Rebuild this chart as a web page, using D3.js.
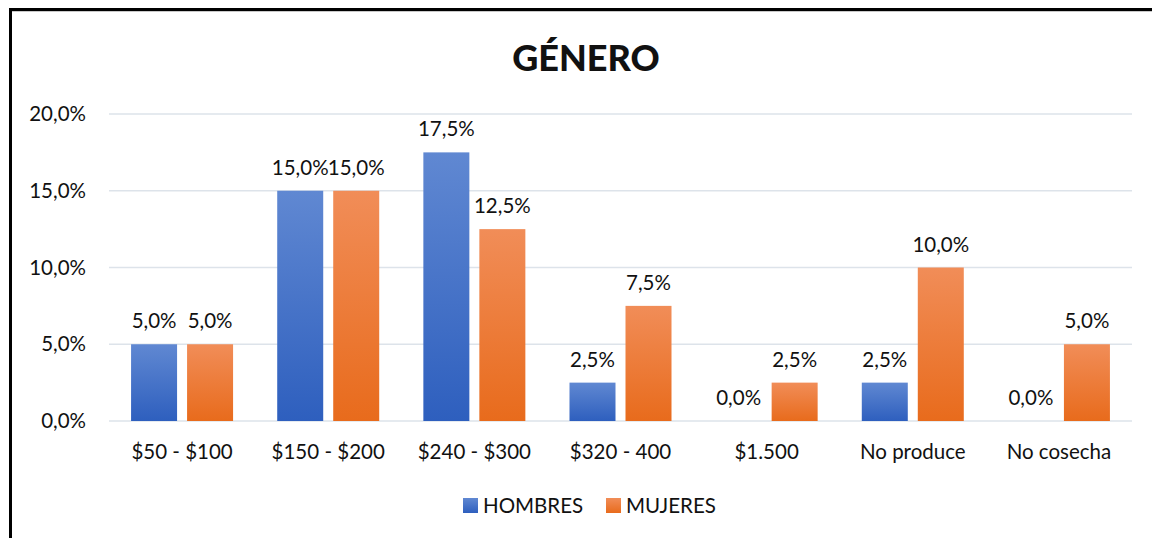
<!DOCTYPE html>
<html>
<head>
<meta charset="utf-8">
<script src="https://cdn.jsdelivr.net/npm/d3@7"></script>
<style>
  body { margin: 0; background: #fff; }
  text { font-family: Lato, "Open Sans", sans-serif; fill: #111; }
</style>
</head>
<body>
<div id="wrapper"></div>
<script>
const categories = ["$50 - $100", "$150 - $200", "$240 - $300", "$320 - 400", "$1.500", "No produce", "No cosecha"];
const hombres = [5.0, 15.0, 17.5, 2.5, 0.0, 2.5, 0.0];
const mujeres = [5.0, 15.0, 12.5, 7.5, 2.5, 10.0, 5.0];
const seriesNames = ["HOMBRES", "MUJERES"];
const yTicks = [0, 5, 10, 15, 20];

const width = 1152;
const height = 538;

const dims = { left: 109, right: 1132, top: 114, bottom: 421 };

const svg = d3.select('#wrapper')
    .append('svg')
    .attr('width', width)
    .attr('height', height);

// gradients
const defs = svg.append('defs');
const grads = [
    { id: 'gBlue', top: '#6088d2', bottom: '#2e5fbe' },
    { id: 'gOrange', top: '#f18d58', bottom: '#e86b1c' }
];
grads.forEach(g => {
    const lg = defs.append('linearGradient').attr('id', g.id)
        .attr('x1', 0).attr('y1', 0).attr('x2', 0).attr('y2', 1);
    lg.append('stop').attr('offset', '0%').attr('stop-color', g.top);
    lg.append('stop').attr('offset', '100%').attr('stop-color', g.bottom);
});

// border
svg.append('line').attr('x1', 10.5).attr('y1', 8).attr('x2', 10.5).attr('y2', height)
    .style('stroke', '#000').style('stroke-width', 3);
svg.append('line').attr('x1', 9).attr('y1', 9.5).attr('x2', width).attr('y2', 9.5)
    .style('stroke', '#000').style('stroke-width', 3);
svg.append('line').attr('x1', 12).attr('y1', 11.5).attr('x2', width).attr('y2', 11.5)
    .style('stroke', '#c8c8c8').style('stroke-width', 1);

const x = d3.scaleBand().domain(categories).range([dims.left, dims.right]);
const xInner = d3.scaleBand().domain(seriesNames).range([0, 102]).paddingInner(10 / 56);
const y = d3.scaleLinear().domain([0, 20]).range([dims.bottom, dims.top]);

// grid
svg.append('g').selectAll('line')
    .data(yTicks)
    .enter()
    .append('line')
    .attr('x1', dims.left).attr('x2', dims.right)
    .attr('y1', d => y(d)).attr('y2', d => y(d))
    .style('stroke', '#dde3ea').style('stroke-width', 1.5);

// y labels
const fmt = v => v.toFixed(1).replace('.', ',') + '%';
svg.append('g').selectAll('text')
    .data(yTicks)
    .enter()
    .append('text')
    .attr('x', 86).attr('y', d => y(d) + 7)
    .attr('text-anchor', 'end')
    .style('font-size', '20.5px')
    .text(fmt);

// x labels
svg.append('g').selectAll('text')
    .data(categories)
    .enter()
    .append('text')
    .attr('x', d => x(d) + x.bandwidth() / 2)
    .attr('y', 459)
    .attr('text-anchor', 'middle')
    .style('font-size', '20.5px')
    .text(d => d);

// bars
const series = [
    { name: seriesNames[0], values: hombres, fill: 'url(#gBlue)' },
    { name: seriesNames[1], values: mujeres, fill: 'url(#gOrange)' }
];
const offset = (x.bandwidth() - 102) / 2;

series.forEach(s => {
    const g = svg.append('g');
    g.selectAll('rect')
        .data(categories)
        .enter()
        .append('rect')
        .attr('x', d => x(d) + offset + xInner(s.name))
        .attr('width', xInner.bandwidth())
        .attr('y', (d, i) => y(s.values[i]))
        .attr('height', (d, i) => y(0) - y(s.values[i]))
        .attr('fill', s.fill);

    g.selectAll('text')
        .data(categories)
        .enter()
        .append('text')
        .attr('x', d => x(d) + offset + xInner(s.name) + xInner.bandwidth() / 2)
        .attr('y', (d, i) => y(s.values[i]) - 16)
        .attr('text-anchor', 'middle')
        .style('font-size', '20.5px')
        .text((d, i) => fmt(s.values[i]));
});

// title
svg.append('text')
    .attr('x', 586).attr('y', 71)
    .attr('text-anchor', 'middle')
    .style('font-size', '36px')
    .style('font-weight', '900')
    .text('GÉNERO');

// legend
const legend = [
    { name: seriesNames[0], fill: 'url(#gBlue)', x: 463 },
    { name: seriesNames[1], fill: 'url(#gOrange)', x: 606 }
];
const lg = svg.append('g').selectAll('g').data(legend).enter().append('g');
lg.append('rect').attr('x', d => d.x).attr('y', 498).attr('width', 15).attr('height', 15)
    .attr('fill', d => d.fill);
lg.append('text').attr('x', d => d.x + 20).attr('y', 513)
    .style('font-size', '20.5px')
    .text(d => d.name);
</script>
</body>
</html>
